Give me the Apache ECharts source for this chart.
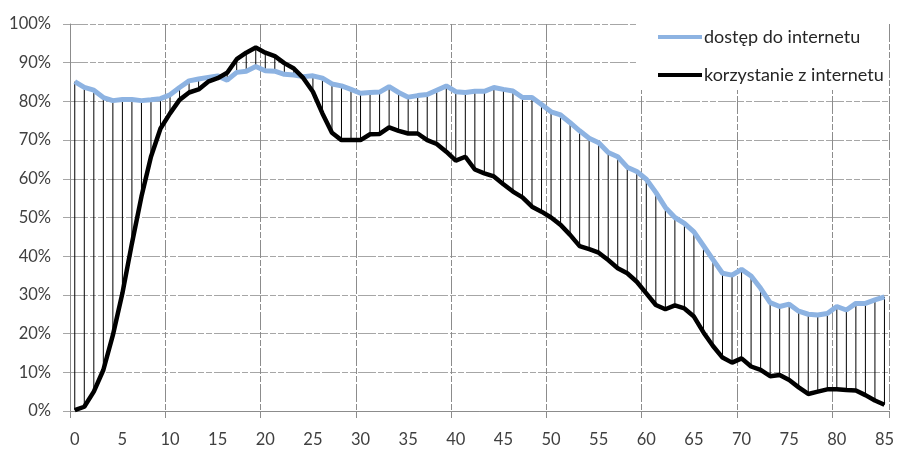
<!DOCTYPE html>
<html>
<head>
<meta charset="utf-8">
<script src="https://cdn.jsdelivr.net/npm/echarts@6/dist/echarts.min.js"></script>
<style>html,body{margin:0;padding:0;background:#fff}#c{width:897px;height:451px}</style>
</head>
<body>
<div id="c"></div>
<script>
var ages = [];
for (var a = 0; a <= 85; a++) ages.push(String(a));

var seriesNames = ['dostęp do internetu', 'korzystanie z internetu'];

var access = [
85.1,83.6,82.9,81.0,80.2,80.5,80.5,80.2,80.4,80.7,
81.7,83.6,85.3,85.8,86.2,86.6,85.5,87.5,87.8,89.0,
87.9,87.8,87.0,86.8,86.4,86.6,86.0,84.5,84.0,83.1,
82.1,82.3,82.4,83.8,82.3,81.1,81.5,81.8,82.9,84.0,
82.5,82.3,82.6,82.6,83.6,83.1,82.7,81.0,81.0,79.2,
77.3,76.5,74.5,72.4,70.5,69.3,66.8,65.7,63.0,61.9,
59.9,56.5,52.6,50.0,48.5,46.3,42.7,39.1,35.6,35.1,
36.6,34.9,31.7,28.0,27.0,27.6,25.8,25.0,24.8,25.2,
27.0,26.1,27.8,27.8,28.7,29.5
];

var usage = [
0.2,1.1,5.0,10.6,19.6,30.4,43.3,55.4,65.7,73.0,
76.9,80.4,82.3,83.1,85.1,86.0,87.4,90.9,92.6,93.9,
92.6,91.7,89.9,88.5,86.0,82.5,76.9,71.9,70.0,70.0,
70.0,71.5,71.6,73.3,72.4,71.7,71.7,70.0,69.0,67.0,
64.7,65.7,62.4,61.4,60.6,58.6,56.7,55.2,52.8,51.5,
50.0,48.1,45.5,42.6,41.8,40.9,39.0,36.9,35.6,33.4,
30.4,27.4,26.3,27.3,26.5,24.4,20.3,16.8,13.8,12.5,
13.6,11.5,10.6,9.0,9.3,8.0,6.1,4.4,5.0,5.6,
5.6,5.4,5.3,4.1,2.7,1.6
];

var yTicks = [0,10,20,30,40,50,60,70,80,90,100];

var dropData = ages.map(function (a, i) { return [i, access[i], usage[i]]; });

var chart = echarts.init(document.getElementById('c'), null, {renderer: 'canvas'});
var gridDash = [18, 2, 6, 2, 6, 2];
var font = 'Lato, "Open Sans", sans-serif';

chart.setOption({
  animation: false,
  backgroundColor: '#fff',
  textStyle: {fontFamily: font},
  grid: {left: 70, right: 4, top: 24, bottom: 40, containLabel: false},
  legend: {
    data: seriesNames,
    orient: 'vertical',
    left: 637,
    top: 15,
    padding: [11, 5, 4, 21],
    backgroundColor: '#fff',
    itemGap: 16,
    itemWidth: 44,
    itemHeight: 4,
    icon: 'rect',
    textStyle: {fontFamily: font, fontSize: 18, color: '#262626', lineHeight: 22, padding: [0, 0, 0, -3]},
    z: 10
  },
  xAxis: {
    type: 'category',
    data: ages,
    boundaryGap: true,
    axisLine: {lineStyle: {color: '#8c8c8c', width: 1}},
    axisTick: {show: true, interval: 9, length: 7, lineStyle: {color: '#8c8c8c'}},
    axisLabel: {interval: 4, margin: 20, fontSize: 16.5, color: '#404040', fontFamily: font},
    splitLine: {show: true, interval: 9, lineStyle: {color: '#8c8c8c', width: 1, type: gridDash}}
  },
  yAxis: {
    type: 'value',
    min: yTicks[0],
    max: yTicks[yTicks.length - 1],
    interval: 10,
    axisLine: {show: true, lineStyle: {color: '#8c8c8c', width: 1}},
    axisTick: {show: true, length: 7, lineStyle: {color: '#a6a6a6'}},
    axisLabel: {formatter: '{value}%', margin: 19, fontSize: 16.5, color: '#404040', fontFamily: font},
    splitLine: {show: true, lineStyle: {color: '#a6a6a6', width: 1, type: gridDash}}
  },
  series: [
    {
      type: 'custom',
      name: 'drop',
      z: 1,
      silent: true,
      data: dropData,
      renderItem: function (params, api) {
        var p1 = api.coord([api.value(0), api.value(1)]);
        var p2 = api.coord([api.value(0), api.value(2)]);
        return {
          type: 'line',
          shape: {x1: p1[0], y1: p1[1], x2: p2[0], y2: p2[1]},
          style: {stroke: '#000', lineWidth: 1},
          subPixelOptimize: true
        };
      },
      encode: {x: 0, y: [1, 2]}
    },
    {
      type: 'line',
      name: seriesNames[0],
      data: access,
      symbol: 'none',
      z: 3,
      color: '#8db3e2',
      lineStyle: {color: '#8db3e2', width: 5}
    },
    {
      type: 'line',
      name: seriesNames[1],
      data: usage,
      symbol: 'none',
      z: 4,
      color: '#000',
      lineStyle: {color: '#000', width: 4.5}
    }
  ]
});
</script>
</body>
</html>
